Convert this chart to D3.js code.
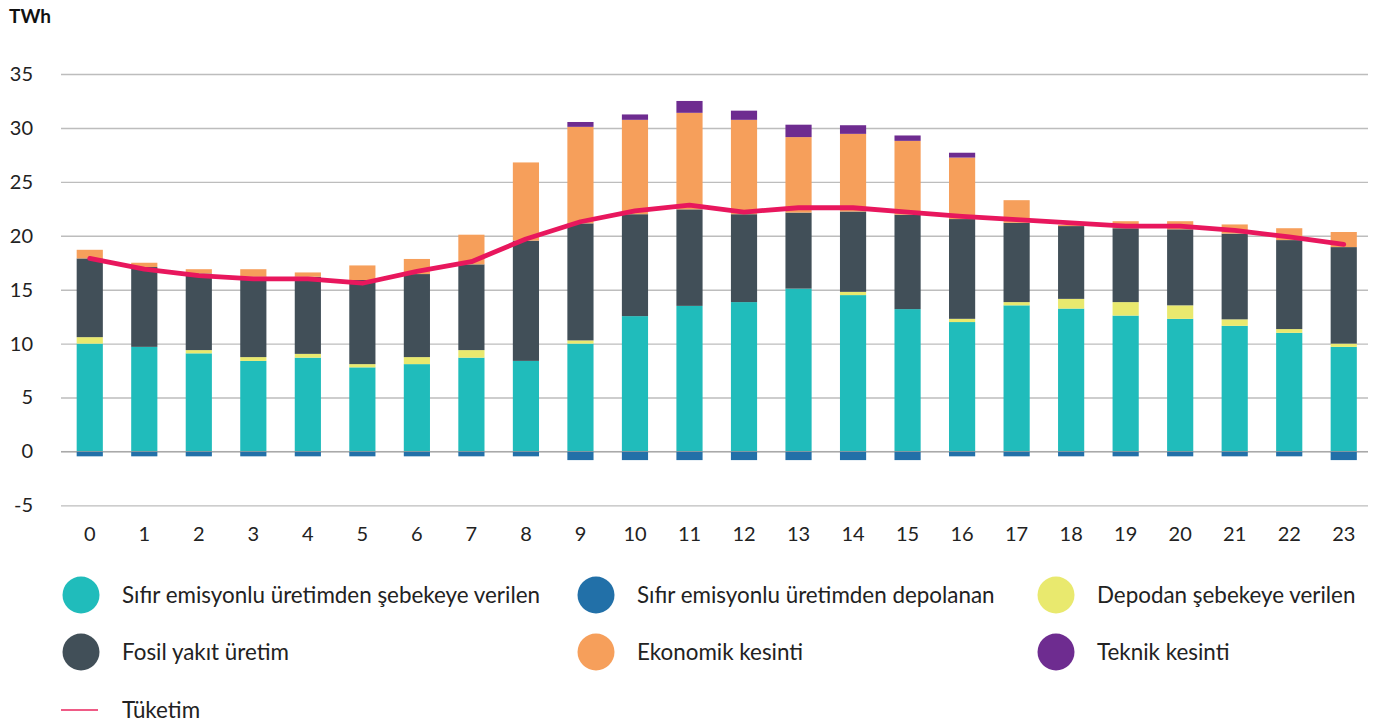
<!DOCTYPE html>
<html>
<head>
<meta charset="utf-8">
<script src="https://cdn.jsdelivr.net/npm/d3@7"></script>
<style>
  html, body { margin: 0; padding: 0; background: #fff; }
  svg { display: block; font-family: Lato, "Open Sans", sans-serif; }
</style>
</head>
<body>
<svg id="chart" width="1378" height="722"></svg>
<script>
const hours = d3.range(0, 24).map(String);
const yTicks = [-5, 0, 5, 10, 15, 20, 25, 30, 35];

const zeroEmissionGrid = [10.0, 9.7, 9.1, 8.4, 8.7, 7.8, 8.1, 8.7, 8.4, 10.0, 12.55, 13.5, 13.85, 15.1, 14.5, 13.2, 12.0, 13.55, 13.25, 12.6, 12.3, 11.65, 11.0, 9.7];
const storageToGrid    = [0.6, 0, 0.3, 0.35, 0.35, 0.3, 0.65, 0.7, 0, 0.3, 0, 0, 0, 0, 0.3, 0, 0.3, 0.3, 0.9, 1.25, 1.25, 0.6, 0.35, 0.3];
const fossil           = [7.3, 7.4, 7.1, 7.45, 7.15, 7.8, 7.7, 7.95, 11.15, 10.85, 9.45, 8.95, 8.15, 7.05, 7.45, 8.75, 9.25, 7.35, 6.75, 6.85, 7.05, 7.95, 8.25, 8.95];
const economicCurtail  = [0.8, 0.4, 0.4, 0.7, 0.4, 1.35, 1.4, 2.75, 7.25, 8.95, 8.75, 8.95, 8.75, 7.0, 7.2, 6.85, 5.7, 2.1, 0.1, 0.65, 0.75, 0.85, 1.1, 1.4];
const technicalCurtail = [0, 0, 0, 0, 0, 0, 0, 0, 0, 0.45, 0.5, 1.1, 0.85, 1.15, 0.8, 0.5, 0.45, 0, 0, 0, 0, 0, 0, 0];
const zeroEmissionStored = [-0.45, -0.45, -0.45, -0.45, -0.45, -0.45, -0.45, -0.45, -0.45, -0.8, -0.8, -0.8, -0.8, -0.8, -0.8, -0.8, -0.45, -0.45, -0.45, -0.45, -0.45, -0.45, -0.45, -0.8];
const consumption      = [17.9, 16.9, 16.3, 16.0, 16.0, 15.6, 16.7, 17.6, 19.7, 21.3, 22.3, 22.85, 22.2, 22.6, 22.6, 22.2, 21.8, 21.5, 21.2, 20.9, 20.9, 20.5, 19.9, 19.2];

const seriesKeys = ["teal", "yellow", "fossil", "econ", "tech"];
const colors = {
  teal: "#20bcbb", blue: "#2270a8", yellow: "#e9e96e", fossil: "#414f58",
  econ: "#f69f5b", tech: "#6e2c90", line: "#e8175d"
};
const legendItems = [
  { key: "teal",   label: "Sıfır emisyonlu üretimden şebekeye verilen" },
  { key: "blue",   label: "Sıfır emisyonlu üretimden depolanan" },
  { key: "yellow", label: "Depodan şebekeye verilen" },
  { key: "fossil", label: "Fosil yakıt üretim" },
  { key: "econ",   label: "Ekonomik kesinti" },
  { key: "tech",   label: "Teknik kesinti" }
];

const rows = hours.map((h, i) => ({
  hour: h,
  teal: zeroEmissionGrid[i], yellow: storageToGrid[i], fossil: fossil[i],
  econ: economicCurtail[i], tech: technicalCurtail[i],
  blue: zeroEmissionStored[i], cons: consumption[i]
}));

const svg = d3.select("#chart");
const gridLeft = 61, gridRight = 1368;

const x = d3.scaleBand().domain(hours).range([62.5, 1371]).paddingInner(0.52).paddingOuter(0.26);
const y = d3.scaleLinear().domain([-5, 35]).range([505.4, 74]);

// Y axis with gridlines
const yAxis = svg.append("g")
  .attr("transform", `translate(${gridLeft},0)`)
  .call(d3.axisLeft(y).tickValues(yTicks).tickSize(-(gridRight - gridLeft)).tickPadding(28).tickFormat(d => String(d)));
yAxis.select(".domain").remove();
yAxis.selectAll(".tick line").attr("stroke", "#bdbdbd").attr("stroke-width", 1.4);
yAxis.selectAll(".tick text").attr("font-size", 20).attr("fill", "#222").attr("font-family", "Lato, sans-serif");

// Unit label
svg.append("text").attr("x", 9).attr("y", 23).text("TWh")
  .attr("font-size", 19).attr("font-weight", 700).attr("fill", "#111");

// Stacked positive bars
const stack = d3.stack().keys(seriesKeys);
const stacked = stack(rows);
svg.append("g").selectAll("g").data(stacked).join("g")
  .attr("fill", d => colors[d.key])
  .selectAll("rect").data(d => d).join("rect")
  .attr("x", d => x(d.data.hour))
  .attr("width", x.bandwidth())
  .attr("y", d => y(d[1]))
  .attr("height", d => Math.max(0, y(d[0]) - y(d[1])));

// Negative bars (stored)
svg.append("g").attr("fill", colors.blue).selectAll("rect").data(rows).join("rect")
  .attr("x", d => x(d.hour))
  .attr("width", x.bandwidth())
  .attr("y", y(0))
  .attr("height", d => y(d.blue) - y(0));

// zero line on top
svg.append("line").attr("x1", gridLeft).attr("x2", gridRight)
  .attr("y1", y(0)).attr("y2", y(0)).attr("stroke", "#9a9a9a").attr("stroke-width", 1).attr("opacity", 0.7);

// Consumption line
const line = d3.line().x(d => x(d.hour) + x.bandwidth() / 2).y(d => y(d.cons));
svg.append("path").datum(rows).attr("d", line)
  .attr("fill", "none").attr("stroke", colors.line).attr("stroke-width", 4.8)
  .attr("stroke-linejoin", "round").attr("stroke-linecap", "round");

// X axis
const xAxis = svg.append("g").attr("transform", "translate(0,534)")
  .call(d3.axisBottom(x).tickSize(0).tickPadding(0));
xAxis.select(".domain").remove();
xAxis.selectAll(".tick text").attr("y", 0).attr("dy", "0.35em")
  .attr("font-size", 20).attr("fill", "#222").attr("font-family", "Lato, sans-serif");

// Legend
const colX = [81, 596, 1056];
const rowY = [595, 652];
const legend = svg.append("g");
legendItems.forEach((it, i) => {
  const cx = colX[i % 3], cy = rowY[Math.floor(i / 3)];
  legend.append("circle").attr("cx", cx).attr("cy", cy).attr("r", 18.5).attr("fill", colors[it.key]);
  legend.append("text").attr("x", cx + 41).attr("y", cy).attr("dy", "0.35em")
    .attr("font-size", 22.4).attr("fill", "#222").text(it.label);
});
legend.append("line").attr("x1", 61).attr("x2", 98).attr("y1", 710).attr("y2", 710)
  .attr("stroke", "#ef5b86").attr("stroke-width", 2);
legend.append("text").attr("x", 122).attr("y", 710).attr("dy", "0.35em")
  .attr("font-size", 22.4).attr("fill", "#222").text("Tüketim");
</script>
</body>
</html>
